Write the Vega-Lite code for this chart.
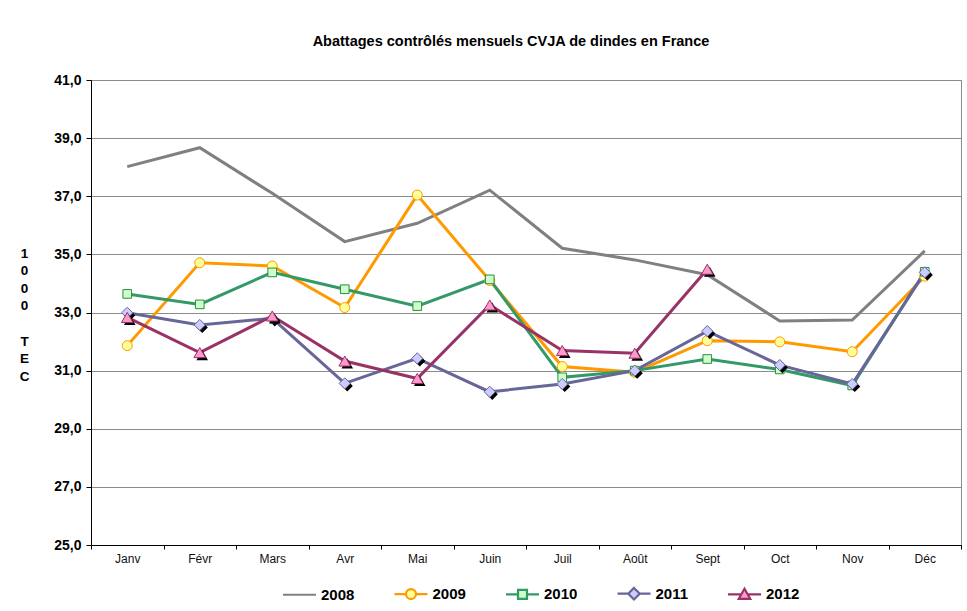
{
  "$schema": "https://vega.github.io/schema/vega-lite/v6.json",
  "width": 870,
  "height": 465,
  "autosize": {"type": "none"},
  "padding": {"left": 91, "top": 80, "right": 6, "bottom": 66},
  "background": "white",
  "title": {
    "text": "Abattages contrôlés mensuels CVJA de dindes en France",
    "font": "Liberation Sans",
    "fontSize": 14.5,
    "fontWeight": "bold",
    "color": "black",
    "anchor": "middle",
    "baseline": "alphabetic",
    "dx": -15,
    "offset": 13
  },
  "config": {
    "view": {"stroke": "#8c8c8c", "strokeWidth": 1},
    "font": "Liberation Sans"
  },
  "data": {
    "values": [
      {"mois": "Janv", "annee": "2008", "valeur": 38.02},
      {"mois": "Févr", "annee": "2008", "valeur": 38.67},
      {"mois": "Mars", "annee": "2008", "valeur": 37.1},
      {"mois": "Avr", "annee": "2008", "valeur": 35.44},
      {"mois": "Mai", "annee": "2008", "valeur": 36.07},
      {"mois": "Juin", "annee": "2008", "valeur": 37.21},
      {"mois": "Juil", "annee": "2008", "valeur": 35.21},
      {"mois": "Août", "annee": "2008", "valeur": 34.81},
      {"mois": "Sept", "annee": "2008", "valeur": 34.3},
      {"mois": "Oct", "annee": "2008", "valeur": 32.71},
      {"mois": "Nov", "annee": "2008", "valeur": 32.74},
      {"mois": "Déc", "annee": "2008", "valeur": 35.12},
      {"mois": "Janv", "annee": "2009", "valeur": 31.86},
      {"mois": "Févr", "annee": "2009", "valeur": 34.71},
      {"mois": "Mars", "annee": "2009", "valeur": 34.6},
      {"mois": "Avr", "annee": "2009", "valeur": 33.17},
      {"mois": "Mai", "annee": "2009", "valeur": 37.04},
      {"mois": "Juin", "annee": "2009", "valeur": 34.1},
      {"mois": "Juil", "annee": "2009", "valeur": 31.14},
      {"mois": "Août", "annee": "2009", "valeur": 30.94},
      {"mois": "Sept", "annee": "2009", "valeur": 32.03},
      {"mois": "Oct", "annee": "2009", "valeur": 31.99},
      {"mois": "Nov", "annee": "2009", "valeur": 31.65},
      {"mois": "Déc", "annee": "2009", "valeur": 34.25},
      {"mois": "Janv", "annee": "2010", "valeur": 33.64},
      {"mois": "Févr", "annee": "2010", "valeur": 33.28},
      {"mois": "Mars", "annee": "2010", "valeur": 34.38},
      {"mois": "Avr", "annee": "2010", "valeur": 33.8},
      {"mois": "Mai", "annee": "2010", "valeur": 33.22},
      {"mois": "Juin", "annee": "2010", "valeur": 34.14},
      {"mois": "Juil", "annee": "2010", "valeur": 30.77},
      {"mois": "Août", "annee": "2010", "valeur": 31.0},
      {"mois": "Sept", "annee": "2010", "valeur": 31.4},
      {"mois": "Oct", "annee": "2010", "valeur": 31.04},
      {"mois": "Nov", "annee": "2010", "valeur": 30.49},
      {"mois": "Déc", "annee": "2010", "valeur": 34.4},
      {"mois": "Janv", "annee": "2011", "valeur": 32.99},
      {"mois": "Févr", "annee": "2011", "valeur": 32.57},
      {"mois": "Mars", "annee": "2011", "valeur": 32.8},
      {"mois": "Avr", "annee": "2011", "valeur": 30.56},
      {"mois": "Mai", "annee": "2011", "valeur": 31.42},
      {"mois": "Juin", "annee": "2011", "valeur": 30.27},
      {"mois": "Juil", "annee": "2011", "valeur": 30.54},
      {"mois": "Août", "annee": "2011", "valeur": 31.0},
      {"mois": "Sept", "annee": "2011", "valeur": 32.36},
      {"mois": "Oct", "annee": "2011", "valeur": 31.19},
      {"mois": "Nov", "annee": "2011", "valeur": 30.54},
      {"mois": "Déc", "annee": "2011", "valeur": 34.38},
      {"mois": "Janv", "annee": "2012", "valeur": 32.83},
      {"mois": "Févr", "annee": "2012", "valeur": 31.62},
      {"mois": "Mars", "annee": "2012", "valeur": 32.88},
      {"mois": "Avr", "annee": "2012", "valeur": 31.33},
      {"mois": "Mai", "annee": "2012", "valeur": 30.73},
      {"mois": "Juin", "annee": "2012", "valeur": 33.26},
      {"mois": "Juil", "annee": "2012", "valeur": 31.69},
      {"mois": "Août", "annee": "2012", "valeur": 31.6},
      {"mois": "Sept", "annee": "2012", "valeur": 34.49}
    ]
  },
  "encoding": {
    "x": {
      "field": "mois",
      "type": "nominal",
      "sort": ["Janv", "Févr", "Mars", "Avr", "Mai", "Juin", "Juil", "Août", "Sept", "Oct", "Nov", "Déc"],
      "scale": {"type": "band", "paddingInner": 0, "paddingOuter": 0},
      "bandPosition": 0.5,
      "axis": {
        "title": null,
        "labelAngle": 0,
        "labelFont": "Liberation Sans",
        "labelFontSize": 12,
        "labelColor": "#111111",
        "domainColor": "black",
        "domainWidth": 1,
        "tickColor": "black",
        "tickBand": "extent",
        "tickSize": 4,
        "labelPadding": 4,
        "grid": false
      }
    },
    "y": {
      "field": "valeur",
      "type": "quantitative",
      "scale": {"domain": [25, 41], "nice": false, "zero": false},
      "axis": {
        "values": [25, 27, 29, 31, 33, 35, 37, 39, 41],
        "labelExpr": "replace(format(datum.value, '.1f'), '.', ',')",
        "labelFont": "Liberation Sans",
        "labelFontSize": 14,
        "labelFontWeight": "bold",
        "labelColor": "black",
        "labelPadding": 5,
        "domainColor": "black",
        "domainWidth": 1,
        "tickColor": "black",
        "tickSize": 5,
        "grid": true,
        "gridColor": "#8c8c8c",
        "gridWidth": 1,
        "title": ["1", "0", "0", "0", "\u200b", "T", "E", "C"],
        "titleFont": "Liberation Sans",
        "titleFontSize": 13.5,
        "titleFontWeight": "bold",
        "titleColor": "black",
        "titleAngle": 0,
        "titleAlign": "center",
        "titleBaseline": "top",
        "titleLineHeight": 17.6,
        "titleX": -67,
        "titleY": 166
      }
    }
  },
  "layer": [
    {
      "mark": {"type": "line", "strokeWidth": 3},
      "encoding": {
        "stroke": {
          "field": "annee",
          "type": "nominal",
          "scale": {
            "domain": ["2008", "2009", "2010", "2011", "2012"],
            "range": ["#808080", "#FF9900", "#339966", "#666699", "#993366"]
          }
        }
      }
    },
    {
      "transform": [{"filter": "datum.annee == 'aucune'"}],
      "mark": {"type": "point", "filled": true, "opacity": 1, "strokeWidth": 2.2},
      "encoding": {
        "stroke": {
          "field": "annee",
          "type": "nominal",
          "legend": {
            "title": null,
            "orient": "none",
            "direction": "horizontal",
            "columns": 5,
            "legendX": 201,
            "legendY": 506,
            "padding": 0,
            "symbolSize": 100,
            "symbolStrokeWidth": 2.2,
            "symbolOpacity": 1,
            "labelFont": "Liberation Sans",
            "labelFontSize": 15,
            "labelFontWeight": "bold",
            "labelColor": "black",
            "labelOffset": 14,
            "columnPadding": 34.5
          }
        },
        "fill": {
          "field": "annee",
          "type": "nominal",
          "scale": {
            "domain": ["2008", "2009", "2010", "2011", "2012"],
            "range": ["transparent", "#FFFF99", "#CCFFCC", "#CCCCFF", "#FF99CC"]
          }
        },
        "shape": {
          "field": "annee",
          "type": "nominal",
          "scale": {
            "domain": ["2008", "2009", "2010", "2011", "2012"],
            "range": [
              "M-3.3,0H3.3",
              "M-3.3,0H-1M1,0H3.3M1,0A1,1,0,1,1,-1,0A1,1,0,1,1,1,0Z",
              "M-3.3,0H-0.9M0.9,0H3.3M-0.9,-0.9H0.9V0.9H-0.9Z",
              "M-3.3,0H-1.15M1.15,0H3.3M0,-1.15L1.15,0L0,1.15L-1.15,0Z",
              "M-3.3,0H-0.65M0.65,0H3.3M0,-1.1L1.15,0.9L-1.15,0.9Z"
            ]
          }
        }
      }
    },
    {
      "transform": [{"filter": "datum.annee == '2009'"}],
      "mark": {"type": "point", "shape": "circle", "size": 100, "filled": true, "fill": "#FFFF99", "stroke": "#FF9900", "strokeWidth": 1, "opacity": 1}
    },
    {
      "transform": [{"filter": "datum.annee == '2010'"}],
      "mark": {"type": "point", "shape": "square", "size": 75, "filled": true, "fill": "#CCFFCC", "stroke": "#2E8B3A", "strokeWidth": 1, "opacity": 1}
    },
    {
      "transform": [{"filter": "datum.annee == '2011'"}],
      "mark": {"type": "point", "shape": "diamond", "size": 125, "filled": true, "fill": "black", "strokeWidth": 0, "opacity": 1, "xOffset": 2.5, "yOffset": 2.5}
    },
    {
      "transform": [{"filter": "datum.annee == '2011'"}],
      "mark": {"type": "point", "shape": "diamond", "size": 125, "filled": true, "fill": "#CCCCFF", "stroke": "#666699", "strokeWidth": 1, "opacity": 1}
    },
    {
      "transform": [{"filter": "datum.annee == '2012'"}],
      "mark": {"type": "point", "shape": "triangle-up", "size": 135, "filled": true, "fill": "black", "strokeWidth": 0, "opacity": 1, "xOffset": 2.5, "yOffset": 2.5}
    },
    {
      "transform": [{"filter": "datum.annee == '2012'"}],
      "mark": {"type": "point", "shape": "triangle-up", "size": 135, "filled": true, "fill": "#FF99CC", "stroke": "#993366", "strokeWidth": 1, "opacity": 1}
    }
  ]
}
